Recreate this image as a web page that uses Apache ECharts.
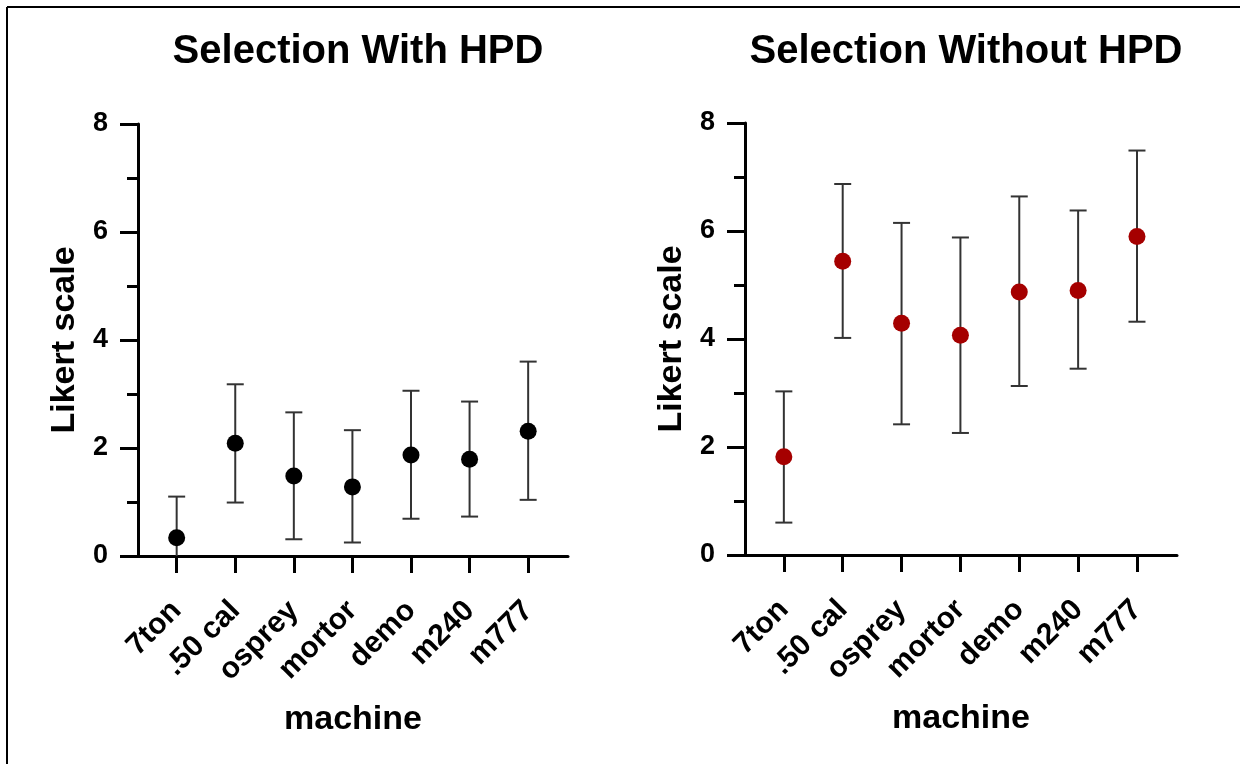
<!DOCTYPE html>
<html>
<head>
<meta charset="utf-8">
<script src="https://cdn.jsdelivr.net/npm/echarts@6/dist/echarts.min.js"></script>
<style>
  html, body { margin: 0; padding: 0; background: #fff; }
  #chart { width: 1240px; height: 764px; }
</style>
</head>
<body>
<div id="chart"></div>
<script>
// categories and values
var machines = ["7ton", ".50 cal", "osprey", "mortor", "demo", "m240", "m777"];
var yTicks = [0, 2, 4, 6, 8];

var withMean  = [0.34, 2.09, 1.48, 1.28, 1.87, 1.79, 2.31];
var withLow   = [-0.42, 0.99, 0.31, 0.25, 0.69, 0.73, 1.04];
var withHigh  = [1.10, 3.18, 2.66, 2.33, 3.06, 2.86, 3.60];

var withoutMean = [1.82, 5.44, 4.29, 4.07, 4.87, 4.90, 5.90];
var withoutLow  = [0.60, 4.02, 2.42, 2.26, 3.13, 3.45, 4.32];
var withoutHigh = [3.03, 6.87, 6.15, 5.88, 6.64, 6.38, 7.49];

var FONT = "'Liberation Sans', Arial, Helvetica, sans-serif";
var positions = machines.map(function (m, i) { return i + 1; });

function points(means) {
  return means.map(function (v, i) { return [i + 1, v]; });
}
function bars(lows, highs) {
  return lows.map(function (lo, i) { return [i + 1, lo, highs[i]]; });
}

function renderErrorBar(params, api) {
  var x = api.value(0);
  var lo = api.coord([x, api.value(1)]);
  var hi = api.coord([x, api.value(2)]);
  var half = 8.5;
  var style = { stroke: "#333", lineWidth: 2 };
  return {
    type: "group",
    children: [
      { type: "line", shape: { x1: lo[0], y1: lo[1], x2: hi[0], y2: hi[1] }, style: style },
      { type: "line", shape: { x1: hi[0] - half, y1: hi[1], x2: hi[0] + half, y2: hi[1] }, style: style },
      { type: "line", shape: { x1: lo[0] - half, y1: lo[1], x2: lo[0] + half, y2: lo[1] }, style: style }
    ]
  };
}

function xAxis(idx) {
  return {
    type: "value",
    gridIndex: idx,
    min: 0.34,
    max: 7.68,
    name: "machine",
    nameLocation: "middle",
    nameGap: 147,
    nameTextStyle: { fontFamily: FONT, fontWeight: "bold", fontSize: 34, color: "#000" },
    splitLine: { show: false },
    axisLine: { show: true, lineStyle: { color: "#000", width: 3 } },
    axisTick: { show: true, length: 17, customValues: positions, lineStyle: { color: "#000", width: 3 } },
    axisLabel: {
      customValues: positions,
      rotate: 45,
      margin: 50,
      fontFamily: FONT,
      fontWeight: "bold",
      fontSize: 30,
      color: "#000",
      formatter: function (v) { return machines[Math.round(v) - 1]; }
    }
  };
}

function yAxis(idx) {
  return {
    type: "value",
    gridIndex: idx,
    min: 0,
    max: 8,
    interval: 2,
    name: "Likert scale",
    nameLocation: "middle",
    nameGap: 56,
    nameTextStyle: { fontFamily: FONT, fontWeight: "bold", fontSize: 34, color: "#000" },
    splitLine: { show: false },
    axisLine: { show: true, lineStyle: { color: "#000", width: 3 } },
    axisTick: { show: true, length: 18, lineStyle: { color: "#000", width: 3 } },
    minorTick: { show: true, splitNumber: 2, length: 11, lineStyle: { color: "#000", width: 3 } },
    axisLabel: {
      margin: 30,
      fontFamily: FONT,
      fontWeight: "bold",
      fontSize: 27,
      color: "#000",
      customValues: yTicks
    }
  };
}

var chart = echarts.init(document.getElementById("chart"));

var option = {
  backgroundColor: "#fff",
  animation: false,
  title: [
    {
      text: "Selection With HPD",
      left: 353,
      top: 27,
      textAlign: "center",
      textStyle: { fontFamily: FONT, fontWeight: "bold", fontSize: 40, color: "#000" }
    },
    {
      text: "Selection Without HPD",
      left: 961,
      top: 27,
      textAlign: "center",
      textStyle: { fontFamily: FONT, fontWeight: "bold", fontSize: 40, color: "#000" }
    }
  ],
  grid: [
    { left: 138, top: 124, width: 430, height: 432 },
    { left: 745, top: 123, width: 432, height: 432 }
  ],
  xAxis: [xAxis(0), xAxis(1)],
  yAxis: [yAxis(0), yAxis(1)],
  graphic: [
    { type: "line", shape: { x1: 7, y1: 7, x2: 1240, y2: 7 }, style: { stroke: "#000", lineWidth: 2 } },
    { type: "line", shape: { x1: 7, y1: 7, x2: 7, y2: 764 }, style: { stroke: "#000", lineWidth: 2 } }
  ],
  series: [
    {
      type: "custom",
      xAxisIndex: 0,
      yAxisIndex: 0,
      clip: true,
      renderItem: renderErrorBar,
      data: bars(withLow, withHigh),
      z: 2
    },
    {
      type: "scatter",
      xAxisIndex: 0,
      yAxisIndex: 0,
      symbolSize: 17,
      itemStyle: { color: "#000", opacity: 1 },
      data: points(withMean),
      z: 3
    },
    {
      type: "custom",
      xAxisIndex: 1,
      yAxisIndex: 1,
      clip: true,
      renderItem: renderErrorBar,
      data: bars(withoutLow, withoutHigh),
      z: 2
    },
    {
      type: "scatter",
      xAxisIndex: 1,
      yAxisIndex: 1,
      symbolSize: 17,
      itemStyle: { color: "#a50000", opacity: 1 },
      data: points(withoutMean),
      z: 3
    }
  ]
};

chart.setOption(option);
</script>
</body>
</html>
